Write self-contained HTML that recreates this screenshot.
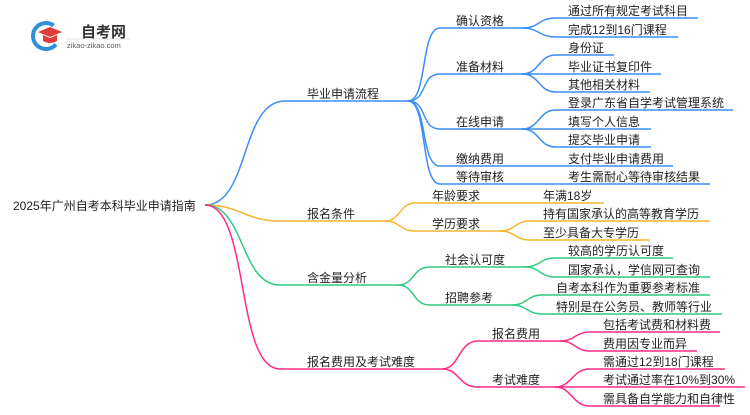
<!DOCTYPE html>
<html><head><meta charset="utf-8"><style>
body{margin:0;background:#fff;width:750px;height:410px;overflow:hidden}
text{font-family:"Liberation Sans","Noto Sans CJK SC",sans-serif;font-size:12px;fill:#222}
</style></head><body>
<svg width="750" height="410" viewBox="0 0 750 410" xmlns="http://www.w3.org/2000/svg" fill="none" stroke-width="1.5">
<circle cx="46" cy="36" r="13" stroke="#2f8fd8" stroke-width="4" fill="none" stroke-dasharray="60 22" transform="rotate(40 46 36)"/>
<path d="M38 32 L50 27 L62 32 L50 37 Z" fill="#e03a3a" stroke="none"/>
<path d="M43 35 L43 41 Q50 45 57 41 L57 35 L50 38 Z" fill="#e03a3a" stroke="none"/>
<text x="81" y="37" style="font-size:15px;font-weight:bold;fill:#333">自考网</text>
<line x1="66" y1="39" x2="130" y2="39" stroke="#ddd" stroke-width="0.8"/>
<text x="67" y="48" style="font-size:7.5px;fill:#555">zikao-zikao.com</text>

<text x="13" y="210" style="font-size:12px">2025年广州自考本科毕业申请指南</text>

<g stroke="#3a8ef6">
<path d="M205 205 C250 205 240 101 285 101 L408 101"/>
<path d="M408 101 C428 101 420 28 440 28 L522 28"/>
<path d="M408 101 C428 101 420 74 440 74 L522 74"/>
<path d="M408 101 C428 101 420 129 440 129 L522 129"/>
<path d="M408 101 C428 101 420 166 440 166 L673 166"/>
<path d="M408 101 C428 101 420 184 440 184 L710 184"/>
<path d="M522 28 C540 28 538 18 556 18 L698 18"/>
<path d="M522 28 C540 28 538 37 556 37 L678 37"/>
<path d="M522 74 C540 74 538 55 556 55 L614 55"/>
<path d="M522 74 L661 74"/>
<path d="M522 74 C540 74 538 92 556 92 L650 92"/>
<path d="M522 129 C540 129 538 110 556 110 L733 110"/>
<path d="M522 129 L651 129"/>
<path d="M522 129 C540 129 538 147 556 147 L651 147"/>
</g>
<g stroke="#f5b52e">
<path d="M205 205 C240 205 245 221 280 221 L385 221"/>
<path d="M385 221 C400 221 400 203 415 203 L604 203"/>
<path d="M385 221 C400 221 400 231 415 231 L500 231"/>
<path d="M500 231 C515 231 515 221 530 221 L710 221"/>
<path d="M500 231 C515 231 515 240 530 240 L650 240"/>
</g>
<g stroke="#2dcb7e">
<path d="M205 205 C245 205 240 285 280 285 L398 285"/>
<path d="M398 285 C415 285 412 267 430 267 L525 267"/>
<path d="M398 285 C415 285 412 305 430 305 L512 305"/>
<path d="M525 267 C540 267 540 258 555 258 L673 258"/>
<path d="M525 267 C540 267 540 277 555 277 L710 277"/>
<path d="M512 305 C527 305 527 295 542 295 L710 295"/>
<path d="M512 305 C527 305 527 314 542 314 L722 314"/>
</g>
<g stroke="#ff2a85">
<path d="M205 205 C250 205 235 369 280 369 L442 369"/>
<path d="M442 369 C460 369 458 341 478 341 L560 341"/>
<path d="M442 369 C460 369 458 387 478 387 L555 387"/>
<path d="M560 341 C575 341 575 332 590 332 L720 332"/>
<path d="M560 341 C575 341 575 351 590 351 L697 351"/>
<path d="M555 387 C572 387 572 369 590 369 L725 369"/>
<path d="M555 387 L745 387"/>
<path d="M555 387 C572 387 572 406 590 406 L720 406"/>
</g>

<text x="307" y="98">毕业申请流程</text>
<text x="456" y="25">确认资格</text>
<text x="568" y="15">通过所有规定考试科目</text>
<text x="568" y="34">完成12到16门课程</text>
<text x="456" y="71">准备材料</text>
<text x="568" y="52">身份证</text>
<text x="568" y="71">毕业证书复印件</text>
<text x="568" y="89">其他相关材料</text>
<text x="456" y="126">在线申请</text>
<text x="568" y="107">登录广东省自学考试管理系统</text>
<text x="568" y="126">填写个人信息</text>
<text x="568" y="144">提交毕业申请</text>
<text x="456" y="163">缴纳费用</text>
<text x="568" y="163">支付毕业申请费用</text>
<text x="456" y="181">等待审核</text>
<text x="568" y="181">考生需耐心等待审核结果</text>

<text x="307" y="218">报名条件</text>
<text x="432" y="200">年龄要求</text>
<text x="543" y="200">年满18岁</text>
<text x="432" y="228">学历要求</text>
<text x="543" y="218">持有国家承认的高等教育学历</text>
<text x="543" y="237">至少具备大专学历</text>

<text x="307" y="282">含金量分析</text>
<text x="445" y="264">社会认可度</text>
<text x="568" y="255">较高的学历认可度</text>
<text x="568" y="274">国家承认，学信网可查询</text>
<text x="445" y="302">招聘参考</text>
<text x="556" y="292">自考本科作为重要参考标准</text>
<text x="556" y="311">特别是在公务员、教师等行业</text>

<text x="307" y="366">报名费用及考试难度</text>
<text x="492" y="338">报名费用</text>
<text x="603" y="329">包括考试费和材料费</text>
<text x="603" y="348">费用因专业而异</text>
<text x="492" y="384">考试难度</text>
<text x="603" y="366">需通过12到18门课程</text>
<text x="603" y="384">考试通过率在10%到30%</text>
<text x="603" y="403">需具备自学能力和自律性</text>
</svg>
</body></html>
